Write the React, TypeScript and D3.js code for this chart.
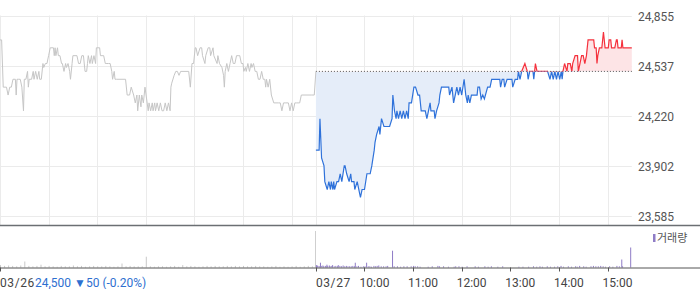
import React from "react";
import * as d3 from "d3";

// ---- data ----
const yTickValues = [24855, 24537, 24220, 23902, 23585];
const hourLabels = ["10:00", "11:00", "12:00", "13:00", "14:00", "15:00"];
const hourMinutes = [60, 120, 180, 240, 300, 360];
const dayLabels = ["03/26", "03/27"];
const baseline = 24500;
const infoPrice = "24,500";
const infoChange = "▼50 (-0.20%)";

// 03/26 price: [minute since 09:00, price]
const day1Prices: [number, number][] = [
  [0, 24700], [2, 24700], [4, 24400], [8, 24400], [10, 24350], [12, 24400], [14, 24400], [16, 24450],
  [19, 24450], [20, 24350], [21, 24450], [23, 24450], [25, 24450], [27, 24400], [29, 24250], [30, 24450],
  [32, 24450], [34, 24500], [35, 24400], [36, 24450], [39, 24450], [41, 24500], [42, 24450], [44, 24500],
  [46, 24450], [48, 24500], [49, 24450], [51, 24450], [53, 24550], [54, 24525], [56, 24550], [58, 24550],
  [60, 24600], [62, 24650], [66, 24650], [67, 24600], [68, 24650], [69, 24600], [71, 24650], [72, 24600],
  [74, 24600], [76, 24550], [77, 24550], [79, 24500], [81, 24550], [82, 24525], [84, 24550], [86, 24500],
  [87, 24450], [89, 24550], [90, 24600], [95, 24600], [97, 24550], [99, 24550], [101, 24600], [103, 24600],
  [105, 24500], [107, 24500], [108, 24550], [109, 24600], [111, 24550], [113, 24600], [114, 24550], [116, 24600],
  [118, 24550], [119, 24650], [123, 24650], [124, 24600], [126, 24600], [128, 24600], [130, 24550], [132, 24550],
  [134, 24550], [136, 24550], [138, 24500], [139, 24450], [141, 24500], [142, 24450], [144, 24450], [155, 24450],
  [157, 24350], [160, 24350], [162, 24400], [165, 24350], [167, 24300], [169, 24350], [170, 24250], [172, 24350],
  [174, 24275], [175, 24350], [177, 24300], [179, 24400], [181, 24325], [183, 24250], [184, 24300], [186, 24250],
  [188, 24300], [189, 24250], [191, 24300], [192, 24250], [194, 24300], [196, 24250], [198, 24300], [200, 24250],
  [202, 24250], [204, 24300], [206, 24250], [208, 24300], [210, 24250], [211, 24400], [212, 24425], [215, 24475],
  [217, 24500], [219, 24500], [221, 24475], [223, 24500], [233, 24500], [235, 24400], [237, 24550], [239, 24550],
  [241, 24650], [242, 24650], [244, 24600], [247, 24650], [249, 24650], [250, 24600], [253, 24550], [254, 24600],
  [257, 24650], [259, 24650], [260, 24600], [263, 24650], [264, 24600], [268, 24550], [269, 24600], [271, 24550],
  [274, 24525], [276, 24475], [277, 24400], [278, 24500], [280, 24550], [282, 24500], [284, 24550], [286, 24600],
  [288, 24550], [290, 24550], [292, 24600], [294, 24600], [296, 24600], [298, 24550], [300, 24550], [301, 24500],
  [303, 24525], [304, 24500], [306, 24550], [308, 24500], [310, 24550], [311, 24525], [313, 24550], [315, 24500],
  [317, 24500], [319, 24450], [321, 24450], [323, 24500], [325, 24450], [327, 24450], [328, 24400], [329, 24450],
  [331, 24400], [333, 24450], [335, 24350], [338, 24300], [344, 24300], [346, 24300], [348, 24250], [350, 24300],
  [352, 24300], [356, 24300], [358, 24250], [360, 24300], [362, 24250], [364, 24300], [366, 24300], [368, 24300],
  [370, 24300], [372, 24350], [385, 24350], [388, 24350], [390, 24500],
];

// 03/27 price: [minute since 09:00, price]
const day2Prices: [number, number][] = [
  [0, 24000], [4, 24000], [5, 24200], [7, 23950], [10, 23900], [11, 23800], [14, 23750], [16, 23800],
  [18, 23750], [19, 23800], [21, 23750], [22, 23800], [23, 23750], [26, 23800], [28, 23800], [30, 23850],
  [32, 23800], [35, 23900], [36, 23900], [38, 23850], [41, 23800], [43, 23850], [44, 23800], [47, 23800],
  [48, 23750], [51, 23800], [53, 23750], [55, 23700], [57, 23750], [59, 23750], [60, 23750], [63, 23850],
  [67, 23850], [69, 23900], [72, 24000], [73, 24050], [75, 24100], [78, 24150], [79, 24100], [81, 24200],
  [84, 24150], [91, 24150], [94, 24200], [95, 24350], [97, 24250], [99, 24200], [100, 24250], [102, 24200],
  [104, 24250], [106, 24200], [108, 24250], [110, 24200], [112, 24250], [114, 24200], [115, 24300], [118, 24300],
  [121, 24400], [123, 24400], [126, 24350], [128, 24350], [130, 24250], [135, 24250], [137, 24200], [139, 24250],
  [141, 24300], [142, 24250], [146, 24250], [147, 24200], [149, 24250], [152, 24300], [153, 24350], [155, 24400],
  [164, 24400], [165, 24350], [168, 24400], [170, 24300], [172, 24350], [174, 24400], [176, 24350], [178, 24400],
  [180, 24350], [183, 24450], [185, 24350], [187, 24300], [188, 24350], [190, 24300], [192, 24350], [199, 24350],
  [200, 24400], [202, 24400], [204, 24325], [206, 24350], [208, 24325], [212, 24400], [215, 24400], [217, 24450],
  [227, 24450], [228, 24400], [230, 24450], [232, 24450], [233, 24400], [236, 24450], [242, 24450], [243, 24400],
  [246, 24450], [249, 24450], [250, 24500], [252, 24450], [254, 24500], [258, 24550], [261, 24500], [262, 24450],
  [264, 24500], [268, 24500], [269, 24450], [271, 24550], [273, 24500], [286, 24500], [289, 24450], [291, 24500],
  [293, 24450], [295, 24500], [297, 24450], [299, 24500], [301, 24450], [303, 24500], [304, 24450], [305, 24500],
  [307, 24550], [310, 24500], [311, 24550], [314, 24550], [316, 24500], [317, 24550], [320, 24600], [323, 24600],
  [324, 24500], [326, 24550], [328, 24600], [330, 24600], [332, 24550], [334, 24600], [336, 24700], [343, 24700],
  [344, 24650], [346, 24650], [347, 24550], [348, 24600], [350, 24650], [353, 24650], [355, 24750], [357, 24650],
  [361, 24650], [362, 24700], [364, 24700], [365, 24650], [369, 24650], [371, 24700], [372, 24700], [373, 24650],
  [377, 24650], [378, 24700], [379, 24650], [390, 24650],
];

// 03/26 volume, one value per 5 minutes
const day1VolumeStep = 5;
const day1Volumes = [
  6, 4, 5, 4, 3, 5, 15, 4, 3, 4, 7, 3, 4, 3, 2, 4, 3, 3, 5, 3, 4, 2, 3, 4, 3, 3, 4, 3, 2, 3,
  10, 3, 4, 3, 3, 3, 27, 3, 2, 3, 3, 2, 3, 4, 2, 6, 3, 4, 3, 2, 3, 4, 3, 4, 3, 3, 4, 3, 4, 3,
  4, 3, 3, 4, 3, 3, 2, 3, 4, 2, 3, 2, 3, 4, 2, 3, 4, 3,
];

// 03/27 volume: [minute since 09:00, volume]
const day2Volumes: [number, number][] = [
  [0, 6], [1, 5], [2, 4], [4, 3], [5, 12], [6, 4], [8, 5], [9, 3], [11, 4], [12, 3], [13, 7], [14, 4],
  [16, 5], [17, 3], [19, 4], [20, 6], [22, 3], [24, 4], [26, 3], [27, 6], [29, 4], [31, 3], [33, 5], [35, 3],
  [37, 4], [39, 3], [41, 3], [43, 3], [45, 4], [47, 3], [48, 12], [50, 3], [52, 4], [55, 2], [58, 3], [60, 3],
  [62, 12], [64, 3], [66, 3], [68, 2], [71, 4], [73, 3], [75, 4], [77, 5], [80, 3], [83, 3], [86, 3], [88, 4],
  [94, 42], [96, 3], [100, 3], [104, 2], [108, 3], [112, 3], [117, 3], [120, 4], [122, 3], [125, 3], [128, 2],
  [138, 2], [143, 3], [150, 4], [152, 3], [157, 3], [163, 2], [170, 2], [172, 3], [176, 3], [180, 2], [186, 3],
  [196, 3], [200, 2], [208, 3], [212, 2], [216, 3], [224, 2], [230, 3], [250, 2], [255, 2], [262, 2], [268, 3],
  [272, 2], [276, 3], [279, 2], [285, 3], [289, 2], [294, 2], [298, 3], [302, 4], [305, 2], [311, 3], [315, 2],
  [320, 3], [322, 2], [325, 4], [330, 3], [333, 2], [339, 3], [342, 4], [345, 3], [348, 3], [351, 4], [354, 3],
  [357, 2], [362, 3], [366, 2], [371, 4], [374, 3], [377, 20], [378, 3], [388, 50],
];

// ---- layout ----
const W = 700;
const H = 289;
const DAY = 390;
const plotRight = 631.8;
const mainTop = 15.5;
const mainBottom = 215.5;
const sepY = 225.5;
const volBottom = 267.5;
const volTop = 227.5;

const FONT = "Roboto, 'Noto Sans', sans-serif";

export default function App() {
  const x = d3.scaleLinear().domain([0, DAY * 2]).range([0, plotRight]);
  const y = d3.scaleLinear().domain([23585, 24855]).range([mainBottom, mainTop]);
  const yv = d3.scaleLinear().domain([0, 100]).range([volBottom, volTop]);

  const line1 = d3.line<[number, number]>().x((d) => x(d[0])).y((d) => y(d[1]));
  const line2 = d3.line<[number, number]>().x((d) => x(d[0] + DAY)).y((d) => y(d[1]));
  const area2 = d3
    .area<[number, number]>()
    .x((d) => x(d[0] + DAY))
    .y0(y(baseline))
    .y1((d) => y(d[1]));

  const yb = y(baseline);
  const vGrid = [0, ...hourMinutes, DAY, ...hourMinutes.map((m) => m + DAY)];

  return (
    <svg
      width={W}
      height={H}
      style={{ position: "fixed", left: 0, top: 0, background: "#fff" }}
      fontFamily={FONT}
    >
      <defs>
        <clipPath id="above">
          <rect x={0} y={0} width={W} height={yb} />
        </clipPath>
        <clipPath id="below">
          <rect x={0} y={yb} width={W} height={sepY - yb} />
        </clipPath>
      </defs>

      {/* grid */}
      {yTickValues.map((v) => (
        <line key={"h" + v} x1={0} x2={plotRight} y1={Math.round(y(v)) + 0.5} y2={Math.round(y(v)) + 0.5} stroke="#ebebeb" />
      ))}
      {vGrid.map((m) => (
        <line key={"v" + m} x1={Math.round(x(m)) + 0.5} x2={Math.round(x(m)) + 0.5} y1={mainTop} y2={sepY} stroke="#ebebeb" />
      ))}

      {/* y labels */}
      {yTickValues.map((v) => (
        <text key={"t" + v} x={638} y={Math.round(y(v)) + 0.5} dy="0.35em" fontSize={12} fill="#555">
          {d3.format(",")(v)}
        </text>
      ))}

      {/* day 2 area */}
      <path d={area2(day2Prices) || ""} fill="#e5edf9" clipPath="url(#below)" />
      <path d={area2(day2Prices) || ""} fill="#fde4e6" clipPath="url(#above)" />

      {/* baseline */}
      <line x1={x(DAY)} x2={plotRight} y1={yb} y2={yb} stroke="#555" strokeDasharray="1,2" />

      {/* day 1 line */}
      <path d={line1(day1Prices) || ""} fill="none" stroke="#c6c6c6" strokeWidth={1} />
      {/* day 2 line */}
      <path d={line2(day2Prices) || ""} fill="none" stroke="#2f72da" strokeWidth={1.2} clipPath="url(#below)" />
      <path d={line2(day2Prices) || ""} fill="none" stroke="#f5313d" strokeWidth={1.2} clipPath="url(#above)" />

      {/* separator */}
      <line x1={0} x2={W} y1={sepY} y2={sepY} stroke="#6b6f73" strokeWidth={1.5} />

      {/* volume */}
      {day1Volumes.map((v, i) => (
        <rect key={"a" + i} x={x(i * day1VolumeStep)} y={yv(v)} width={1} height={volBottom - yv(v)} fill="#c9c9c9" />
      ))}
      <line x1={Math.round(x(DAY)) - 0.5} x2={Math.round(x(DAY)) - 0.5} y1={231} y2={volBottom} stroke="#cfcfcf" />
      {day2Volumes.map(([m, v]) => (
        <rect key={"b" + m} x={x(m + DAY)} y={yv(v)} width={1} height={volBottom - yv(v)} fill="#8f7cc6" />
      ))}

      {/* volume legend */}
      <rect x={653} y={234} width={2.5} height={8} fill="#8f7cc6" />
      <text x={657} y={242} fontSize={11} fill="#555" fontFamily="'Noto Sans CJK KR', sans-serif">
        거래량
      </text>

      {/* x axis */}
      <line x1={0} x2={W} y1={volBottom + 0.5} y2={volBottom + 0.5} stroke="#555" />
      {[0, DAY].map((m) => (
        <line key={"d" + m} x1={Math.round(x(m)) + 0.5} x2={Math.round(x(m)) + 0.5} y1={volBottom} y2={volBottom + 4} stroke="#555" />
      ))}
      {hourMinutes.map((m) => (
        <line key={"k" + m} x1={Math.round(x(m + DAY)) + 0.5} x2={Math.round(x(m + DAY)) + 0.5} y1={volBottom} y2={volBottom + 4} stroke="#555" />
      ))}
      {hourMinutes.map((m, i) => (
        <text key={"l" + m} x={x(m + DAY) - 5} y={287} fontSize={12} fill="#444">
          {hourLabels[i]}
        </text>
      ))}
      <text x={x(0)} y={287} fontSize={12} fill="#444" letterSpacing={0.6}>
        {dayLabels[0]}
      </text>
      <text x={x(DAY)} y={287} fontSize={12} fill="#444" letterSpacing={0.6}>
        {dayLabels[1]}
      </text>
      <text x={35} y={287} fontSize={12} fill="#2e6fd0">
        {infoPrice}
        <tspan dx={3}>{infoChange}</tspan>
      </text>
    </svg>
  );
}
